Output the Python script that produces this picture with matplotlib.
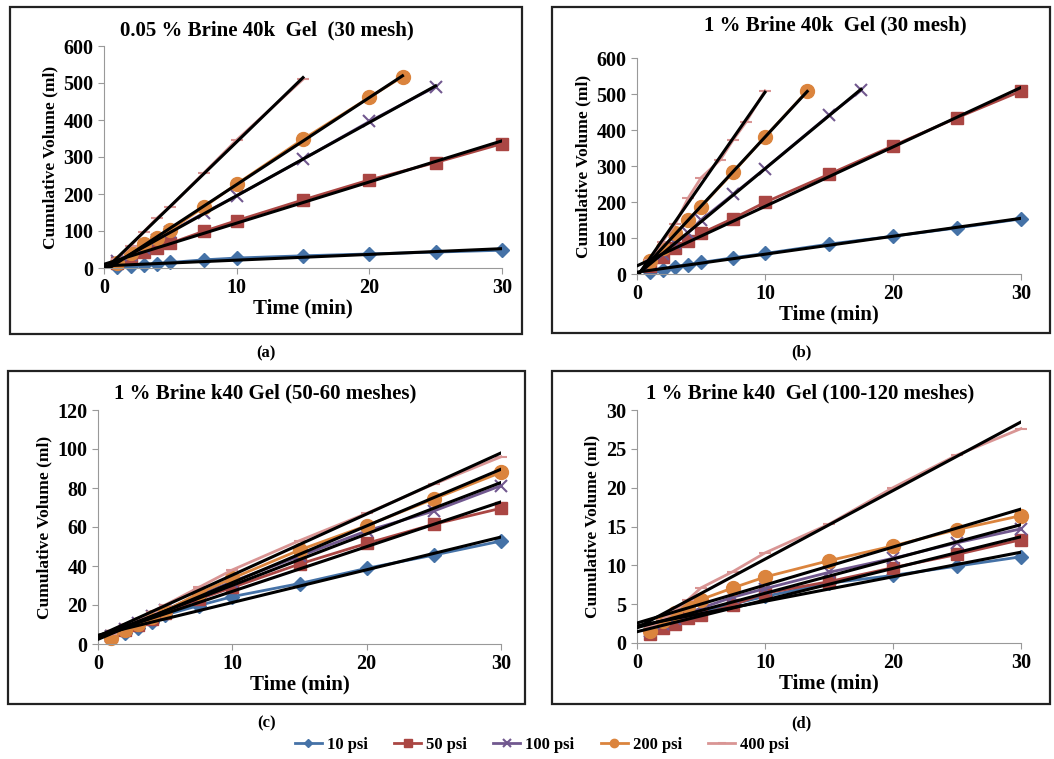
import matplotlib
matplotlib.use('Agg')
import matplotlib.pyplot as plt
import numpy as np
from matplotlib.patches import Rectangle

plt.rcParams['font.family'] = ['Liberation Serif', 'DejaVu Serif']
plt.rcParams['font.weight'] = 'bold'

W, H = 1054, 759

labels = ['10 psi', '50 psi', '100 psi', '200 psi', '400 psi']
colors = ['#4572A7', '#AA4643', '#71588F', '#DB843D', '#D99594']
markers = ['D', 's', 'x', 'o', '_']
msizes = [7, 9, 9, 10, 9]

t_full = [1, 2, 3, 4, 5, 7.5, 10, 15, 20, 25, 30]

# panel (a) 0.05 % brine, 30 mesh
a_t = [t_full, t_full, [1, 2, 3, 4, 5, 7.5, 10, 15, 20, 25],
       [1, 2, 3, 4, 5, 7.5, 10, 15, 20, 22.5], [1, 2, 3, 4, 5, 7.5, 10, 15]]
a_v = [[2, 5, 9, 11, 15, 22, 27, 33, 38, 43, 48],
       [13, 27, 42, 54, 67, 99, 128, 184, 238, 285, 336],
       [18, 36, 55, 75, 98, 148, 195, 294, 396, 490],
       [14, 40, 65, 81, 103, 164, 227, 348, 461, 517],
       [25, 60, 98, 135, 166, 256, 346, 510]]

# panel (b) 1 % brine, 30 mesh
b_t = [t_full, t_full, [1, 2, 3, 4, 5, 7.5, 10, 15, 17.5],
       [1, 2, 3, 4, 5, 7.5, 10, 13.3], [1, 2, 3, 4, 5, 6.5, 7.5, 8.5, 10]]
b_v = [[6, 12, 20, 26, 32, 45, 57, 83, 105, 128, 153],
       [22, 46, 71, 92, 113, 154, 199, 277, 356, 434, 508],
       [25, 55, 85, 115, 150, 221, 293, 441, 510],
       [36, 71, 113, 150, 187, 282, 381, 508],
       [40, 90, 140, 211, 267, 317, 372, 421, 509]]

# panel (c) 1 % brine, 50-60 meshes
c_t = [t_full] * 5
c_v = [[3, 5.5, 8, 11.5, 14.9, 19.7, 24.3, 31, 38.8, 45.6, 52.8],
       [4, 7, 10, 13, 16, 23, 29, 41, 51.6, 61.4, 69.6],
       [4, 7.5, 11, 14.5, 17.5, 25, 32, 45, 58, 68.2, 81.2],
       [3, 7, 10.5, 14, 17, 26, 33.7, 48.2, 60.7, 74.4, 88],
       [5, 9, 12.5, 16.5, 20, 29, 38, 53, 67, 82, 96]]

# panel (d) 1 % brine, 100-120 meshes
d_t = [t_full] * 5
d_v = [[1.8, 2.3, 3, 3.5, 4, 5, 6, 7.7, 8.7, 9.9, 11.1],
       [1.2, 1.9, 2.4, 3.2, 3.6, 4.9, 6.4, 7.9, 9.7, 11.4, 13.3],
       [1.6, 2.4, 3.1, 3.8, 4.5, 5.9, 7, 9.1, 10.9, 12.9, 14.7],
       [1.5, 2.8, 3.8, 4.8, 5.6, 7.1, 8.5, 10.6, 12.5, 14.6, 16.4],
       [2, 3, 4.2, 5.6, 7.1, 9.2, 11.6, 15.3, 20, 24.2, 27.6]]

panels = [
    ('0.05 % Brine 40k  Gel  (30 mesh)', a_t, a_v, 600, 100,
     (104, 46, 502, 268), (10, 7, 522, 334), '(a)', (267, 30)),
    ('1 % Brine 40k  Gel (30 mesh)', b_t, b_v, 600, 100,
     (637, 58, 1021, 274), (552, 7, 1050, 333), '(b)', (835, 25)),
    ('1 % Brine k40 Gel (50-60 meshes)', c_t, c_v, 120, 20,
     (98, 410, 501, 644), (8, 371, 525, 704), '(c)', (265, 393)),
    ('1 % Brine k40  Gel (100-120 meshes)', d_t, d_v, 30, 5,
     (637, 410, 1021, 643), (552, 371, 1050, 704), '(d)', (810, 393)),
]

fig = plt.figure(figsize=(W / 100, H / 100), dpi=100)


def frac(x0, y0, x1, y1):
    return [x0 / W, 1 - y1 / H, (x1 - x0) / W, (y1 - y0) / H]


handles = []
for title, ts, vs, ymax, ystep, ax_box, frame, cap, tpos in panels:
    fx = frac(*frame)
    fig.add_artist(Rectangle((fx[0], fx[1]), fx[2], fx[3], transform=fig.transFigure,
                             fill=False, edgecolor='#222222', lw=1.6))
    ax = fig.add_axes(frac(*ax_box))
    hs = []
    for i in range(5):
        t = np.array(ts[i], dtype=float)
        v = np.array(vs[i], dtype=float)
        h, = ax.plot(t, v, color=colors[i], marker=markers[i], ms=msizes[i],
                     lw=2, mew=1.5 if markers[i] in 'x_' else 1, label=labels[i],
                     zorder=2, clip_on=False)
        hs.append(h)
    # linear trend lines
    for i in range(5):
        t = np.array(ts[i], dtype=float)
        v = np.array(vs[i], dtype=float)
        k, b = np.polyfit(t, v, 1)
        xx = np.array([0, t[-1]])
        ax.plot(xx, k * xx + b, color='black', lw=2.2, zorder=3)
    handles = hs
    ax.set_xlim(0, 30)
    ax.set_ylim(0, ymax)
    ax.set_xticks([0, 10, 20, 30])
    ax.set_yticks(np.arange(0, ymax + ystep / 2, ystep))
    for s in ['top', 'right']:
        ax.spines[s].set_visible(False)
    for s in ['left', 'bottom']:
        ax.spines[s].set_color('#999999')
    ax.tick_params(colors='#999999', labelcolor='black', labelsize=14.5, length=4)
    for lab in ax.get_xticklabels() + ax.get_yticklabels():
        lab.set_fontweight('bold')
    ax.set_xlabel('Time (min)', fontsize=15, fontweight='bold', labelpad=0)
    ax.set_ylabel('Cumulative Volume (ml)', fontsize=12.5, fontweight='bold', labelpad=4)
    fig.text(tpos[0] / W, 1 - tpos[1] / H, title, ha='center', va='center',
             fontsize=15, fontweight='bold')
    fig.text((frame[0] + frame[2]) / 2 / W, 1 - (frame[3] + 19) / H, cap,
             ha='center', va='center', fontsize=12, fontweight='bold')

fig.legend(handles, labels, loc='center', bbox_to_anchor=(542 / W, 1 - 745 / H),
           ncol=5, frameon=False, handlelength=1.6, handletextpad=0.3,
           columnspacing=1.6, markerscale=0.6, prop={'weight': 'bold', 'size': 12})

fig.savefig('out.png', dpi=100)
